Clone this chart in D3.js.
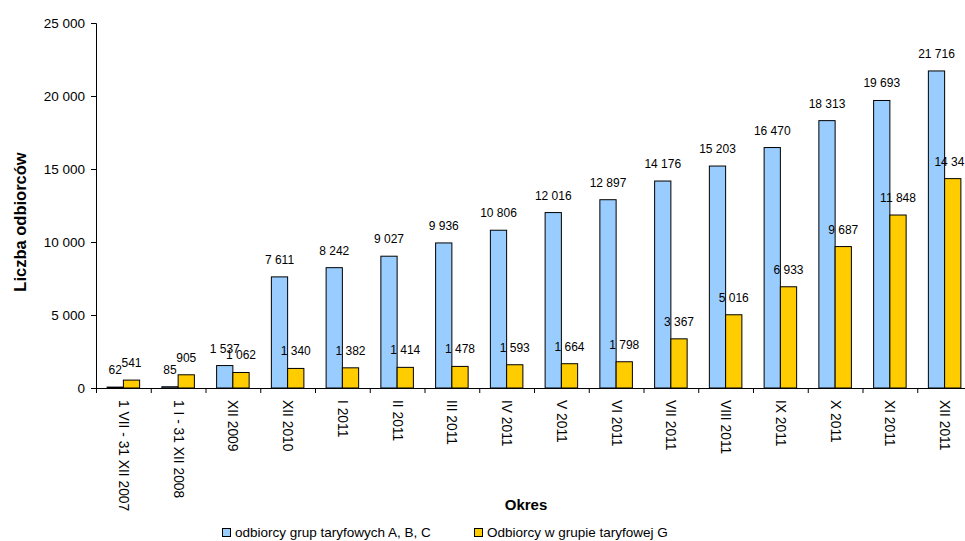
<!DOCTYPE html>
<html><head><meta charset="utf-8">
<script src="https://cdn.jsdelivr.net/npm/d3@7/dist/d3.min.js"></script>
<style>body{margin:0;background:#fff;overflow:hidden}svg{display:block}text{font-family:"Liberation Sans",Arial,sans-serif}</style>
</head><body><svg id="c" width="965" height="541"></svg>
<script>
const categories = ["1 VII - 31 XII 2007","1 I - 31 XII 2008","XII 2009","XII 2010","I 2011","II 2011","III 2011","IV 2011","V 2011","VI 2011","VII 2011","VIII 2011","IX 2011","X 2011","XI 2011","XII 2011"];
const seriesABC = [62,85,1537,7611,8242,9027,9936,10806,12016,12897,14176,15203,16470,18313,19693,21716];
const seriesG = [541,905,1062,1340,1382,1414,1478,1593,1664,1798,3367,5016,6933,9687,11848,14341];
const seriesNames = ["odbiorcy grup taryfowych A, B, C","Odbiorcy w grupie taryfowej G"];
const colors = ["#99CCFF","#FFCC00"];
const yTicks = [0,5000,10000,15000,20000,25000];

(function(){
const svg = d3.select("#c");
const mLeft = 96, mRight = 972, mTop = 23, mBottom = 388;
const fmt = v => d3.format(",")(v).replace(/,/g, " ");

const x = d3.scaleBand().domain(categories).range([mLeft, mRight]).paddingInner(0).paddingOuter(0);
const y = d3.scaleLinear().domain([0, 25000]).range([mBottom, mTop]);
const bw = x.bandwidth();
const barW = bw * 0.297;
const off = (bw - 2 * barW) / 2;

const series = [seriesABC, seriesG];
series.forEach((vals, si) => {
  svg.append("g").selectAll("rect").data(vals).join("rect")
    .attr("x", (d, i) => x(categories[i]) + off + si * barW)
    .attr("y", d => y(d))
    .attr("width", barW)
    .attr("height", d => mBottom - y(d))
    .attr("fill", colors[si]).attr("stroke", "#000").attr("stroke-width", 1);
});
series.forEach((vals, si) => {
  svg.append("g").selectAll("text").data(vals).join("text")
    .attr("x", (d, i) => x(categories[i]) + off + si * barW + barW / 2)
    .attr("y", d => y(d) - 13)
    .attr("text-anchor", "middle").attr("font-size", 12).attr("fill", "#000")
    .text(d => fmt(d));
});

const ya = svg.append("g").attr("transform", `translate(${mLeft},0)`)
  .call(d3.axisLeft(y).tickValues(yTicks).tickFormat(fmt).tickSize(5).tickPadding(6));
ya.selectAll("path,line").attr("stroke", "#000");
ya.selectAll("text").attr("font-size", 13.5).attr("fill", "#000").style("font-family", '"Liberation Sans",Arial,sans-serif');
ya.select(".domain").attr("d", `M-5,${mTop+0.5}H0.5V${mBottom}`);

svg.append("line").attr("x1", mLeft).attr("x2", 965).attr("y1", mBottom + 0.5).attr("y2", mBottom + 0.5).attr("stroke", "#000");
svg.append("g").selectAll("line").data(categories.concat(["end"])).join("line")
  .attr("x1", (d, i) => mLeft + i * bw + 0.5).attr("x2", (d, i) => mLeft + i * bw + 0.5)
  .attr("y1", mBottom).attr("y2", mBottom + 5).attr("stroke", "#000");
svg.append("g").selectAll("text").data(categories).join("text")
  .attr("transform", d => `translate(${x(d) + bw / 2 - 4.5},400) rotate(90)`)
  .attr("text-anchor", "start").attr("font-size", 13.8).attr("fill", "#000")
  .text(d => d);

svg.append("text").attr("transform", "translate(26,222) rotate(-90)")
  .attr("text-anchor", "middle").attr("font-size", 16.5).attr("font-weight", "bold").text("Liczba odbiorców");
svg.append("text").attr("x", 526).attr("y", 510)
  .attr("text-anchor", "middle").attr("font-size", 15).attr("font-weight", "bold").text("Okres");

const legX = [222, 474];
seriesNames.forEach((n, i) => {
  svg.append("rect").attr("x", legX[i] + 0.5).attr("y", 528.5).attr("width", 8).attr("height", 8)
    .attr("fill", colors[i]).attr("stroke", "#000");
  svg.append("text").attr("x", legX[i] + 13).attr("y", 537).attr("font-size", 13.5).text(n);
});
})();
</script></body></html>
